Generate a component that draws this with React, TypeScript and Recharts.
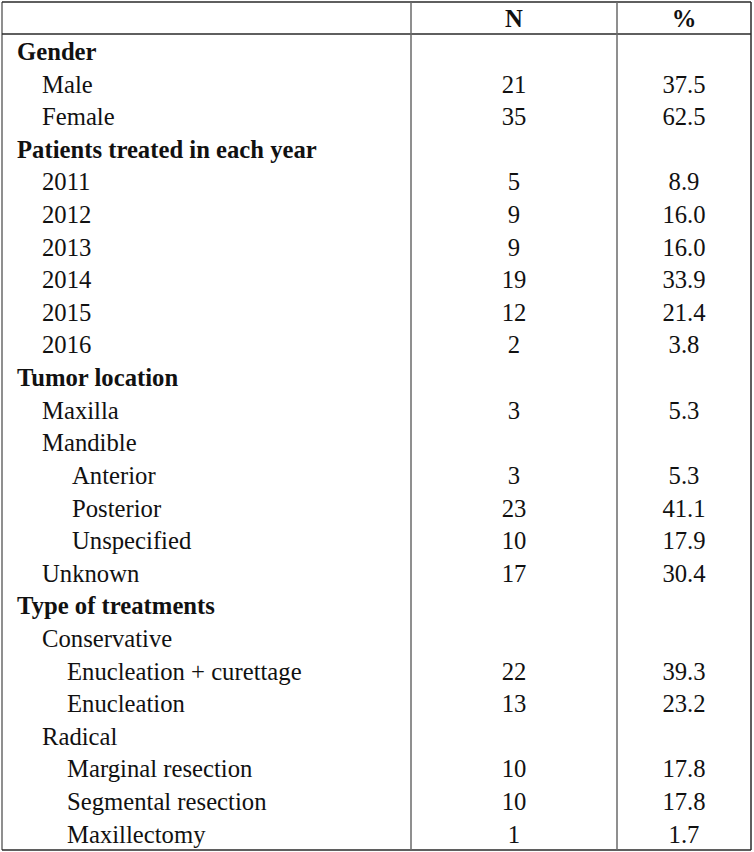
import React from "react";
import { ComposedChart, Bar, XAxis, YAxis, Customized } from "recharts";

// ---- data ----
const columnHeaders = ["", "N", "%"];
const categories = [
  "Gender",
  "Male",
  "Female",
  "Patients treated in each year",
  "2011",
  "2012",
  "2013",
  "2014",
  "2015",
  "2016",
  "Tumor location",
  "Maxilla",
  "Mandible",
  "Anterior",
  "Posterior",
  "Unspecified",
  "Unknown",
  "Type of treatments",
  "Conservative",
  "Enucleation + curettage",
  "Enucleation",
  "Radical",
  "Marginal resection",
  "Segmental resection",
  "Maxillectomy",
];
// 0 = section heading, 1 = item, 2 = treatment sub-item, 3 = mandible sub-item
const levels = [0, 1, 1, 0, 1, 1, 1, 1, 1, 1, 0, 1, 1, 3, 3, 3, 1, 0, 1, 2, 2, 1, 2, 2, 2];
const nValues: (number | null)[] = [
  null, 21, 35, null, 5, 9, 9, 19, 12, 2, null, 3, null, 3, 23, 10, 17, null, null, 22, 13, null, 10, 10, 1,
];
const pctValues: (number | null)[] = [
  null, 37.5, 62.5, null, 8.9, 16.0, 16.0, 33.9, 21.4, 3.8, null, 5.3, null, 5.3, 41.1, 17.9, 30.4, null, null, 39.3, 23.2, null, 17.8, 17.8, 1.7,
];

type Row = { label: string; level: number; header: boolean; n: string; pct: string; v: number };

const rows: Row[] = [
  { label: columnHeaders[0], level: -1, header: true, n: columnHeaders[1], pct: columnHeaders[2], v: 0 },
  ...categories.map((c, i) => ({
    label: c,
    level: levels[i],
    header: false,
    n: nValues[i] == null ? "" : String(nValues[i]),
    pct: pctValues[i] == null ? "" : (pctValues[i] as number).toFixed(1),
    v: 0,
  })),
];

// ---- layout ----
const W = 754;
const H = 852;
const LEFT = 2;
const TOP = 2;
const RIGHT_EDGE = 751;
const BOTTOM_EDGE = 850;
const LABEL_W = 408;
const N_W = 206;
const P_W = 134;
const N_CENTER = 514;
const P_CENTER = 684;
const HEADER_LINE_Y = 34;
const FONT = "Liberation Serif";
const FS = 26;
const SX = 0.95;
const DY = 9;
const indents: Record<number, number> = { 0: 15, 1: 40, 2: 65, 3: 70 };
const H_LINE = "#2a2a2a";
const V_LINE = "#6a6a6a";

const Txt = ({ x, y, anchor, bold, children }: any) => (
  <g transform={`translate(${x},${y + DY}) scale(${SX},1)`}>
    <text
      x={0}
      y={0}
      textAnchor={anchor}
      style={{ fontFamily: FONT, fontSize: FS, fontWeight: bold ? "bold" : "normal" }}
      fill="#111"
    >
      {children}
    </text>
  </g>
);

const LabelTick = (props: any) => {
  const { y, index } = props;
  const r = rows[index];
  if (!r || r.header) return <g />;
  return (
    <Txt x={LEFT + indents[r.level]} y={y} anchor="start" bold={r.level === 0}>
      {r.label}
    </Txt>
  );
};

const makeValueTick = (key: "n" | "pct", cx: number) => (props: any) => {
  const { y, index } = props;
  const r = rows[index];
  if (!r) return <g />;
  return (
    <Txt x={cx} y={y} anchor="middle" bold={r.header}>
      {r[key]}
    </Txt>
  );
};

const NTick = makeValueTick("n", N_CENTER);
const PTick = makeValueTick("pct", P_CENTER);

const TableFrame = () => (
  <g>
    <line x1={LEFT} x2={LEFT} y1={TOP} y2={BOTTOM_EDGE} stroke={V_LINE} strokeWidth={1.5} />
    <line x1={RIGHT_EDGE} x2={RIGHT_EDGE} y1={TOP} y2={BOTTOM_EDGE} stroke={H_LINE} strokeWidth={1.5} />
    <line x1={LEFT} x2={RIGHT_EDGE} y1={TOP} y2={TOP} stroke={H_LINE} strokeWidth={1.5} />
    <line x1={LEFT} x2={RIGHT_EDGE} y1={BOTTOM_EDGE} y2={BOTTOM_EDGE} stroke={H_LINE} strokeWidth={1.5} />
    <line x1={LEFT} x2={RIGHT_EDGE} y1={HEADER_LINE_Y} y2={HEADER_LINE_Y} stroke={H_LINE} strokeWidth={1.5} />
  </g>
);

export default function App() {
  return (
    <div style={{ position: "absolute", left: 0, top: 0, width: W, height: H, background: "#fff" }}>
      <ComposedChart
        width={W}
        height={H}
        data={rows}
        layout="vertical"
        margin={{ top: TOP, right: W - RIGHT_EDGE, bottom: H - BOTTOM_EDGE, left: LEFT }}
        barCategoryGap={0}
      >
        <XAxis type="number" hide domain={[0, 1]} />
        <YAxis
          yAxisId="label"
          type="category"
          dataKey="label"
          width={LABEL_W}
          axisLine={false}
          tickLine={false}
          interval={0}
          tick={LabelTick}
        />
        <YAxis
          yAxisId="n"
          orientation="right"
          type="category"
          dataKey="label"
          width={N_W}
          axisLine={{ stroke: V_LINE, strokeWidth: 1.5 }}
          tickLine={false}
          interval={0}
          tick={NTick}
        />
        <YAxis
          yAxisId="p"
          orientation="right"
          type="category"
          dataKey="label"
          width={P_W}
          axisLine={{ stroke: V_LINE, strokeWidth: 1.5 }}
          tickLine={false}
          interval={0}
          tick={PTick}
        />
        <Bar yAxisId="label" dataKey="v" fill="none" isAnimationActive={false} />
        <Bar yAxisId="n" dataKey="v" fill="none" isAnimationActive={false} />
        <Bar yAxisId="p" dataKey="v" fill="none" isAnimationActive={false} />
        <Customized component={TableFrame} />
      </ComposedChart>
    </div>
  );
}
